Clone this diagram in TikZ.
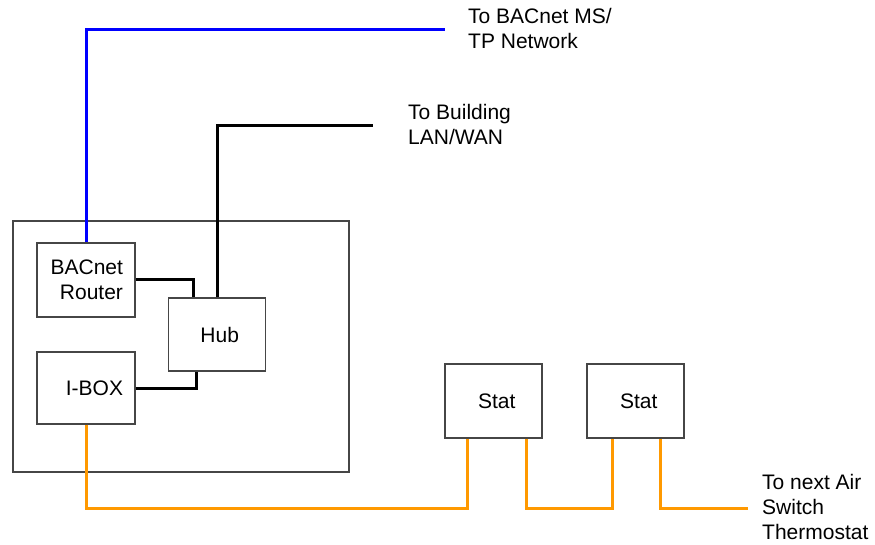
\documentclass[tikz,border=0pt]{standalone}
\usepackage{fontspec}
\setmainfont{Liberation Sans}
\definecolor{wireblue}{RGB}{0,0,255}
\definecolor{wireorange}{RGB}{255,153,0}
\definecolor{boxgray}{RGB}{70,70,70}
\begin{document}
\begin{tikzpicture}[x=1pt,y=-1pt,
  every node/.style={font=\fontsize{21}{25}\selectfont},
  devbox/.style={draw=boxgray,line width=1.2pt,minimum height=74pt,inner ysep=0pt,align=right},
  smallbox/.style={devbox,text width=74pt,inner xsep=12pt},
  bigbox/.style={devbox,text width=44pt,inner xsep=26.5pt},
  lbl/.style={anchor=base west,inner sep=0pt,align=left},
  bluewire/.style={draw=wireblue,line width=3pt},
  blackwire/.style={draw=black,line width=3pt},
  orangewire/.style={draw=wireorange,line width=3pt}]
\useasboundingbox (0,0) rectangle (875,545);
% enclosure
\node[draw=boxgray,line width=1.2pt,minimum width=336pt,minimum height=251pt,inner sep=0pt] (encl) at (181,346.5) {};
% devices
\node[smallbox] (router) at (86,280) {BACnet\\Router};
\node[bigbox,minimum height=73pt] (hub) at (217,334.5) {Hub};
\node[smallbox,minimum height=72pt] (ibox) at (86,388) {I-BOX};
\node[bigbox] (stat1) at (493.5,401) {Stat};
\node[bigbox] (stat2) at (635.5,401) {Stat};
% labels (base = baseline of last line)
\node[lbl] (msTxt) at (468,49) {To BACnet MS/\\TP Network};
\node[lbl] (lanTxt) at (408,145) {To Building\\LAN/WAN};
\node[lbl] (nextTxt) at (762,539) {To next Air\\Switch\\Thermostat};
% free ends and bus corners
\coordinate (msEnd) at (445,30);
\coordinate (lanEnd) at (373,126);
\coordinate (busA) at (467,508);
\coordinate (busB) at (526,508);
\coordinate (busC) at (612,508);
\coordinate (busD) at (660,508);
\coordinate (busEnd) at (748,508);
% wires
\draw[bluewire] (router.north) |- (msEnd);
\draw[blackwire] (hub.north) |- (lanEnd);
\draw[blackwire] (router.east) -| ([xshift=-24pt]hub.north);
\draw[blackwire] (ibox.east) -| ([xshift=-21pt]hub.south);
\draw[orangewire] (ibox.south) |- (busA) -- (busA |- stat1.south);
\draw[orangewire] (busB |- stat1.south) -- (busB) -- (busC) -- (busC |- stat2.south);
\draw[orangewire] (busD |- stat2.south) -- (busD) -- (busEnd);
\end{tikzpicture}
\end{document}
